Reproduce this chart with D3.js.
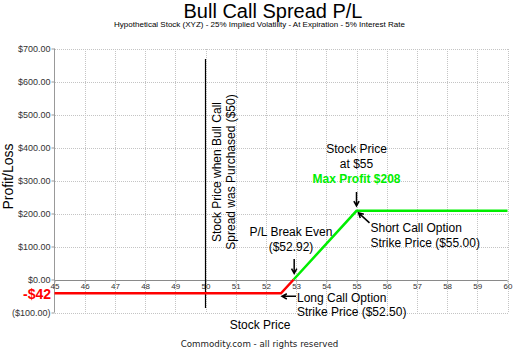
<!DOCTYPE html>
<html>
<head>
<meta charset="utf-8">
<script src="https://cdn.jsdelivr.net/npm/d3@7"></script>
<style>
  html, body { margin: 0; padding: 0; background: #fff; }
  svg { display: block; font-family: "Liberation Sans", Arial, sans-serif; }
</style>
</head>
<body>
<svg id="chart" width="520" height="350"></svg>
<script>
// Bull call spread: P/L at expiration for the spread, by stock price
const stockPrices = [45, 52.5, 52.92, 55, 60];
const profitLoss  = [-42, -42, 0, 208, 208];

const xTicks = [45, 46, 47, 48, 49, 50, 51, 52, 53, 54, 55, 56, 57, 58, 59, 60];
const yTicks = [-100, 0, 100, 200, 300, 400, 500, 600, 700];

const purchasePrice = 50;      // price when the spread was opened
const longStrike = 52.5;
const shortStrike = 55;
const breakEven = 52.92;
const maxLoss = -42;
const maxProfit = 208;

const svg = d3.select("#chart");
const x = d3.scaleLinear().domain([45, 60]).range([54.5, 507.5]);
const y = d3.scaleLinear().domain([-100, 700]).range([312.5, 48.5]);

const money = v => v < 0 ? "($" + d3.format(",.2f")(-v) + ")" : "$" + d3.format(",.2f")(v);

// titles
svg.append("text").attr("x", 273).attr("y", 17.5).attr("text-anchor", "middle")
  .attr("font-size", 20).attr("fill", "#000").text("Bull Call Spread P/L");
svg.append("text").attr("x", 259.5).attr("y", 27).attr("text-anchor", "middle")
  .attr("font-size", 8).attr("fill", "#000")
  .text("Hypothetical Stock (XYZ) - 25% Implied Volatility - At Expiration - 5% Interest Rate");

// grid
const grid = svg.append("g").attr("stroke", "#c4c4c4").attr("stroke-dasharray", "1,1").attr("shape-rendering", "crispEdges");
grid.selectAll("line.v").data(xTicks.slice(1)).join("line")
  .attr("x1", d => Math.round(x(d)) + 0.5).attr("x2", d => Math.round(x(d)) + 0.5)
  .attr("y1", y(700)).attr("y2", y(-100));
grid.selectAll("line.h").data(yTicks.filter(d => d !== 0)).join("line")
  .attr("x1", x(45)).attr("x2", x(60))
  .attr("y1", d => Math.round(y(d)) + 0.5).attr("y2", d => Math.round(y(d)) + 0.5);

// y axis on the left
const yAxis = svg.append("g").attr("transform", `translate(${Math.round(x(45)) - 0.5},0)`)
  .call(d3.axisLeft(y).tickValues(yTicks).tickFormat(money).tickSize(3).tickPadding(1));
yAxis.select(".domain").attr("stroke", "#999").attr("d", `M0,${y(700)}V${y(-100)}`);
yAxis.selectAll(".tick line").attr("stroke", "#999");
yAxis.selectAll(".tick text").attr("font-size", 9).attr("fill", "#333")
  .attr("font-family", "Liberation Sans, Arial, sans-serif");

// x axis along zero
const xAxis = svg.append("g").attr("transform", `translate(0,${Math.round(y(0)) + 0.5})`)
  .call(d3.axisBottom(x).tickValues(xTicks).tickFormat(d3.format("d")).tickSize(2).tickPadding(1));
xAxis.select(".domain").attr("stroke", "#8a8a8a").attr("d", `M${x(45)},0H${x(60)}`);
xAxis.selectAll(".tick line").attr("stroke", "#aaa");
xAxis.selectAll(".tick text").attr("font-size", 8).attr("fill", "#333")
  .attr("font-family", "Liberation Sans, Arial, sans-serif");

// axis titles
svg.append("text").attr("transform", `translate(13,176.5) rotate(-90)`).attr("text-anchor", "middle")
  .attr("font-size", 14).attr("fill", "#000").text("Profit/Loss");
svg.append("text").attr("x", 260).attr("y", 329).attr("text-anchor", "middle")
  .attr("font-size", 12).attr("fill", "#000").text("Stock Price");
svg.append("text").attr("x", 259.5).attr("y", 346.5).attr("text-anchor", "middle")
  .attr("font-family", "DejaVu Sans, sans-serif").attr("font-size", 8.7).attr("fill", "#222")
  .text("Commodity.com - all rights reserved");

// purchase-price marker
svg.append("line").attr("x1", x(purchasePrice)).attr("x2", x(purchasePrice))
  .attr("y1", 59).attr("y2", 308).attr("stroke", "#000").attr("stroke-width", 1.2);
const vText = svg.append("text").attr("transform", `translate(${x(purchasePrice) + 15},172) rotate(-90)`)
  .attr("text-anchor", "middle").attr("font-size", 12).attr("fill", "#000");
vText.append("tspan").attr("x", 0).attr("dy", 0).text("Stock Price when Bull Call");
vText.append("tspan").attr("x", 0).attr("dy", 14.5).text("Spread was Purchased ($" + purchasePrice + ")");

// P/L line: red while losing, green once profitable
const pts = stockPrices.map((p, i) => [p, profitLoss[i]]);
const line = d3.line().x(d => x(d[0])).y(d => y(d[1]));
const lossPts = pts.filter(d => d[1] <= 0);
const gainPts = pts.filter(d => d[1] >= 0);
svg.append("path").attr("d", line(lossPts)).attr("fill", "none").attr("stroke", "#ff0000")
  .attr("stroke-width", 2.5).attr("stroke-linejoin", "miter");
svg.append("path").attr("d", line(gainPts)).attr("fill", "none").attr("stroke", "#00ee00")
  .attr("stroke-width", 2.5).attr("stroke-linejoin", "miter");

// max loss label
svg.append("text").attr("x", 51).attr("y", y(maxLoss) + 5.5).attr("text-anchor", "end")
  .attr("font-size", 14).attr("font-weight", "bold").attr("fill", "#ff0000")
  .text("-$" + Math.abs(maxLoss));

// arrows
function arrow(x1, y1, x2, y2) {
  const ang = Math.atan2(y2 - y1, x2 - x1), h = 5.5, s = 0.5;
  svg.append("path")
    .attr("d", `M${x1},${y1}L${x2},${y2}` +
      `M${x2 - h * Math.cos(ang - s)},${y2 - h * Math.sin(ang - s)}L${x2},${y2}` +
      `L${x2 - h * Math.cos(ang + s)},${y2 - h * Math.sin(ang + s)}`)
    .attr("fill", "none").attr("stroke", "#000").attr("stroke-width", 1.5);
}

function label(lines, xPos, yPos, anchor) {
  const t = svg.append("text").attr("x", xPos).attr("y", yPos).attr("text-anchor", anchor)
    .attr("font-size", 12).attr("fill", "#000");
  lines.forEach((s, i) => t.append("tspan").attr("x", xPos).attr("dy", i ? 14.5 : 0).text(s));
  return t;
}

// max profit annotation at short strike
label(["Stock Price", "at $" + shortStrike], x(shortStrike), 153, "middle");
svg.append("text").attr("x", x(shortStrike)).attr("y", 182.5).attr("text-anchor", "middle")
  .attr("font-size", 12).attr("font-weight", "bold").attr("fill", "#00ee00")
  .text("Max Profit $" + maxProfit);
arrow(x(shortStrike), 192, x(shortStrike), y(maxProfit) - 5);

label(["Short Call Option", "Strike Price ($" + shortStrike.toFixed(2) + ")"], x(shortStrike) + 14, 232, "start");
arrow(x(shortStrike) + 13, y(maxProfit) + 12, x(shortStrike) + 2, y(maxProfit) + 2);

// break-even annotation
label(["P/L Break Even", "($" + breakEven.toFixed(2) + ")"], 291, 236, "middle");
arrow(x(breakEven) + 0.5, 259, x(breakEven) + 0.5, y(0) - 6);

// long strike annotation
label(["Long Call Option", "Strike Price ($" + longStrike.toFixed(2) + ")"], x(longStrike) + 16, 301.5, "start");
arrow(x(longStrike) + 15, y(maxLoss) + 3, x(longStrike) + 1, y(maxLoss) + 3);
</script>
</body>
</html>
